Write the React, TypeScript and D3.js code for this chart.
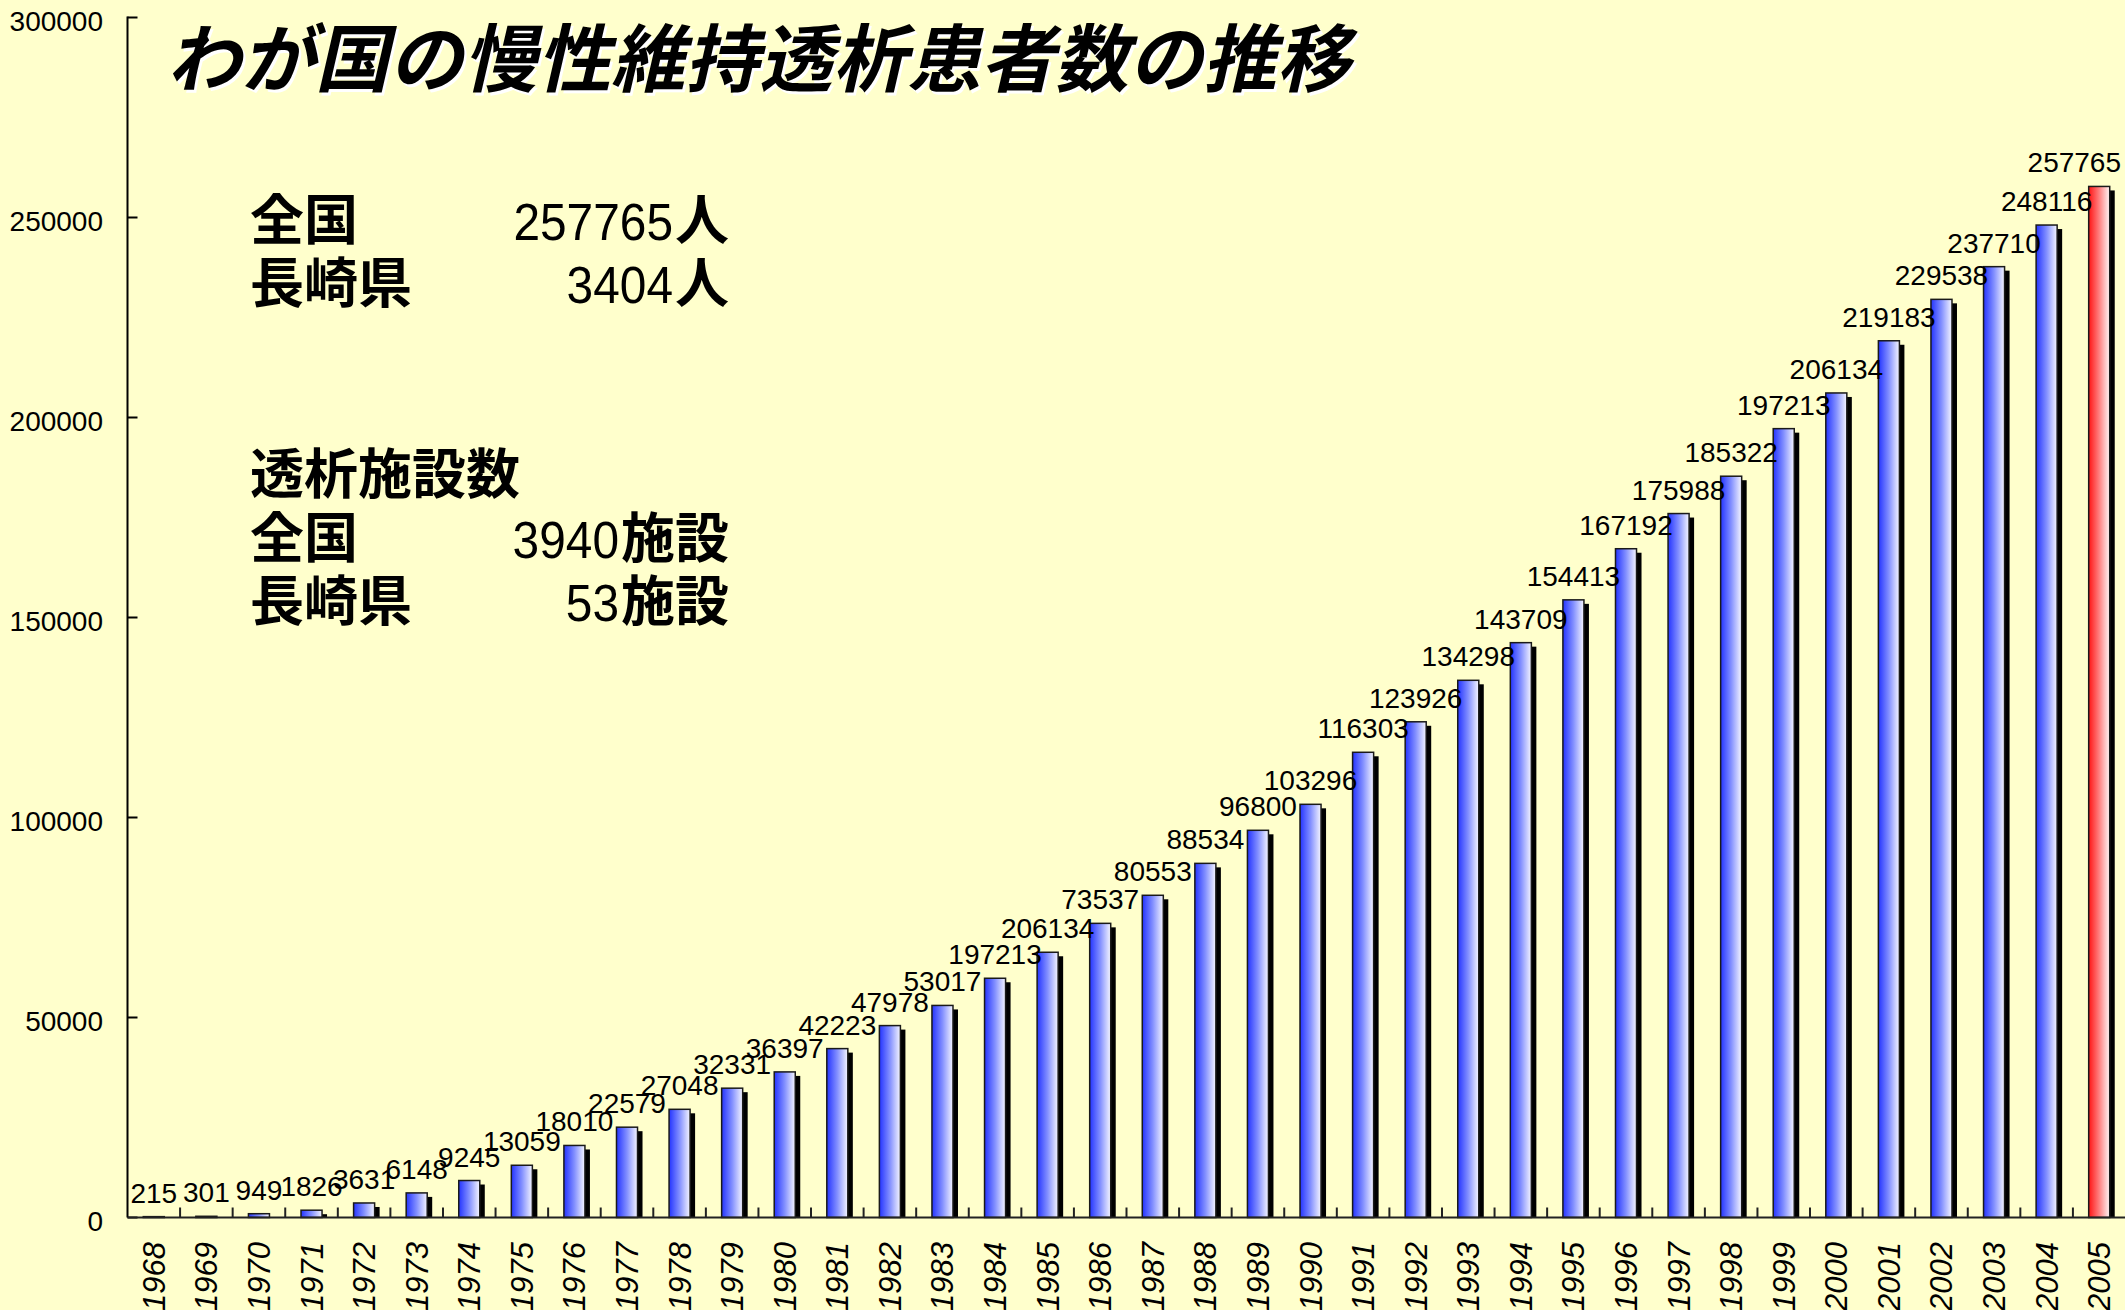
import React from "react";
import * as d3 from "d3";

const years = [
  "1968","1969","1970","1971","1972","1973","1974","1975","1976","1977",
  "1978","1979","1980","1981","1982","1983","1984","1985","1986","1987",
  "1988","1989","1990","1991","1992","1993","1994","1995","1996","1997",
  "1998","1999","2000","2001","2002","2003","2004","2005",
];
const patients = [
  215, 301, 949, 1826, 3631, 6148, 9245, 13059, 18010, 22579,
  27048, 32331, 36397, 42223, 47978, 53017, 59811, 66310, 73537, 80553,
  88534, 96800, 103296, 116303, 123926, 134298, 143709, 154413, 167192, 175988,
  185322, 197213, 206134, 219183, 229538, 237710, 248116, 257765,
];
const valueLabels = [
  "215","301","949","1826","3631","6148","9245","13059","18010","22579",
  "27048","32331","36397","42223","47978","53017","197213","206134","73537","80553",
  "88534","96800","103296","116303","123926","134298","143709","154413","167192","175988",
  "185322","197213","206134","219183","229538","237710","248116","257765",
];
const yTicks = [0, 50000, 100000, 150000, 200000, 250000, 300000];
const title = "わが国の慢性維持透析患者数の推移";
const infoLabels = ["全国", "長崎県", "透析施設数", "全国", "長崎県"];
const infoNumbers = ["257765", "3404", "", "3940", "53"];
const infoUnits = ["人", "人", "", "施設", "施設"];
const highlightYear = "2005";

const W = 2125;
const H = 1310;
const X0 = 127.5;
const X1 = 2125.5;
const Y0 = 1217.5;
const YTOP = 17.5;

const SANS = "'Liberation Sans', Arial, sans-serif";
const CJK = "'Noto Sans CJK JP', 'Noto Sans CJK SC', sans-serif";

export default function App() {
  const x = d3.scaleBand<string>().domain(years).range([X0, X1]).paddingInner(0).paddingOuter(0);
  const y = d3.scaleLinear().domain([0, 300000]).range([Y0, YTOP]);
  const bw = x.bandwidth() * 0.4;
  const labelFs = 28;

  const infoY = [239.5, 302.5, 494, 557.5, 621];
  const infoRight = 729;
  const infoFs = 54;

  return (
    <svg
      width={W}
      height={H}
      viewBox={`0 0 ${W} ${H}`}
      style={{ position: "fixed", left: 0, top: 0, display: "block" }}
    >
      <defs>
        <linearGradient id="gBlue" x1="0" x2="1" y1="0" y2="0">
          <stop offset="0%" stopColor="#2434ff" />
          <stop offset="50%" stopColor="#8390ff" />
          <stop offset="100%" stopColor="#f6f6ff" />
        </linearGradient>
        <linearGradient id="gRed" x1="0" x2="1" y1="0" y2="0">
          <stop offset="0%" stopColor="#ff1414" />
          <stop offset="50%" stopColor="#ff8080" />
          <stop offset="100%" stopColor="#fff6f6" />
        </linearGradient>
      </defs>
      <rect x={0} y={0} width={W} height={H} fill="#ffffcc" />

      {/* title */}
      <g transform={`translate(167,86) skewX(-13)`}>
        <text x={3} y={3} fontFamily={CJK} fontWeight={700} fontSize={74} fill="#ffffff">
          {title}
        </text>
        <text x={0} y={0} fontFamily={CJK} fontWeight={700} fontSize={74} fill="#000000">
          {title}
        </text>
      </g>

      {/* info block */}
      {infoLabels.map((lab, i) => (
        <g key={"info" + i}>
          <text x={250} y={infoY[i]} fontFamily={CJK} fontWeight={700} fontSize={infoFs} fill="#000">
            {lab}
          </text>
          {infoUnits[i] && (
            <text x={infoRight} y={infoY[i]} textAnchor="end" fontFamily={CJK} fontWeight={700} fontSize={infoFs} fill="#000">
              {infoUnits[i]}
            </text>
          )}
          {infoNumbers[i] && (
            <text
              transform={`translate(${infoRight - infoUnits[i].length * infoFs - 2},${infoY[i]}) scale(0.92,1)`}
              textAnchor="end"
              fontFamily={SANS}
              fontSize={52}
              fill="#000"
            >
              {infoNumbers[i]}
            </text>
          )}
        </g>
      ))}

      {/* y axis */}
      <line x1={X0} x2={X0} y1={y(300000) - 1} y2={Y0} stroke="#000" strokeWidth={2} />
      {yTicks.map((t) => (
        <g key={"yt" + t}>
          <line x1={X0} x2={X0 + 10} y1={y(t)} y2={y(t)} stroke="#000" strokeWidth={2} />
          <text x={103} y={y(t) + 13} textAnchor="end" fontFamily={SANS} fontSize={28} fill="#000">
            {t}
          </text>
        </g>
      ))}

      {/* bars */}
      {years.map((yr, i) => {
        const cx = (x(yr) as number) + x.bandwidth() / 2;
        const top = y(patients[i]);
        const h = Y0 - top;
        return (
          <g key={"b" + yr}>
            <rect x={cx - bw / 2 + 5} y={top + 4} width={bw} height={Math.max(0, h - 4)} fill="#000" />
            <rect
              x={cx - bw / 2}
              y={top}
              width={bw}
              height={h}
              fill={yr === highlightYear ? "url(#gRed)" : "url(#gBlue)"}
              stroke="#1a1a1a"
              strokeWidth={1.5}
            />
          </g>
        );
      })}

      {/* x axis */}
      <line x1={X0} x2={X1} y1={Y0} y2={Y0} stroke="#222" strokeWidth={2} />
      {years.slice(1).map((yr) => (
        <line key={"xt" + yr} x1={x(yr) as number} x2={x(yr) as number} y1={Y0} y2={Y0 - 10} stroke="#222" strokeWidth={2} />
      ))}

      {/* value labels */}
      {years.map((yr, i) => {
        const cx = (x(yr) as number) + x.bandwidth() / 2;
        const w = valueLabels[i].length * 0.556 * labelFs;
        const lx = Math.min(cx, W - 4 - w / 2);
        return (
          <text
            key={"vl" + yr}
            x={lx}
            y={y(patients[i]) - 14}
            textAnchor="middle"
            fontFamily={SANS}
            fontSize={labelFs}
            fill="#000"
          >
            {valueLabels[i]}
          </text>
        );
      })}

      {/* year labels */}
      {years.map((yr) => {
        const cx = (x(yr) as number) + x.bandwidth() / 2;
        return (
          <text
            key={"yl" + yr}
            transform={`translate(${cx + 11},1242) rotate(-90)`}
            textAnchor="end"
            fontFamily={SANS}
            fontStyle="italic"
            fontSize={31}
            fill="#000"
          >
            {yr}
          </text>
        );
      })}
    </svg>
  );
}
